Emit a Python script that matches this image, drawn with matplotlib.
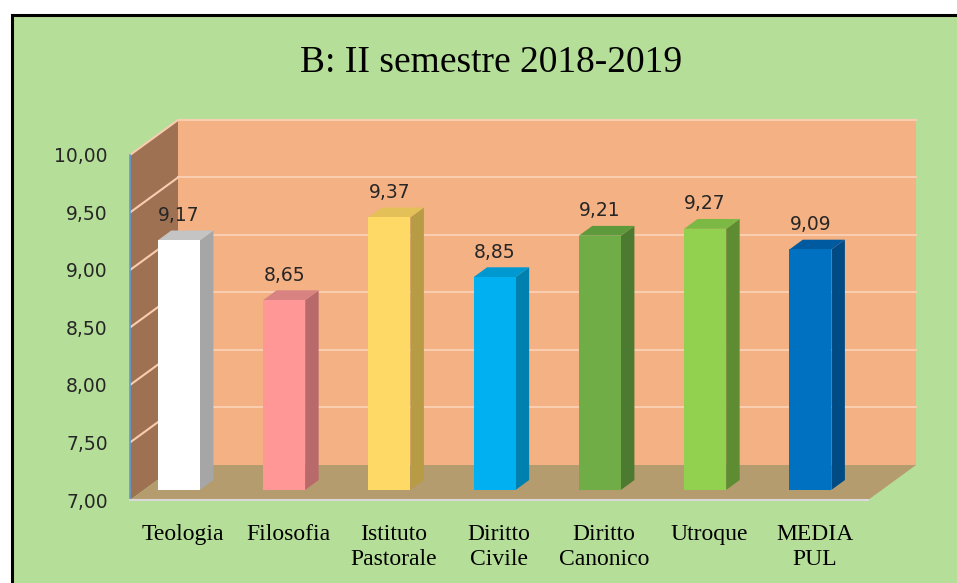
"""3D-style column chart: media voti II semestre 2018-2019"""

import matplotlib
matplotlib.use('Agg')
import matplotlib.pyplot as plt
from matplotlib.patches import Polygon, Rectangle

# Data
categories = ['Teologia', 'Filosofia', 'Istituto\nPastorale', 'Diritto\nCivile',
              'Diritto\nCanonico', 'Utroque', 'MEDIA\nPUL']
values = [9.17, 8.65, 9.37, 8.85, 9.21, 9.27, 9.09]
yticks = [7.0, 7.5, 8.0, 8.5, 9.0, 9.5, 10.0]
title = 'B: II semestre 2018-2019'

# (front, side, top) colours for each bar
bar_colors = [
    ('#ffffff', '#a6a6a6', '#c4c4c4'),
    ('#ff9797', '#b86a6a', '#d98282'),
    ('#ffd966', '#b89b45', '#e3c058'),
    ('#00b0f0', '#0080ae', '#0098d0'),
    ('#70ad47', '#4c7a30', '#5e9a3b'),
    ('#92d050', '#5e8c32', '#7bb844'),
    ('#0070c0', '#004b84', '#005aa0'),
]

GREEN = '#b5de98'
WALL = '#f4b183'
SIDE_WALL = '#9d7152'
FLOOR = '#b59c6e'
GRID = '#f8cdb0'

fig = plt.figure(figsize=(9.57, 5.83), dpi=100)
fig.patch.set_facecolor('white')

# green chart area with black border on top/left
W, H = 957, 583
fig.patches.append(Rectangle((11.5 / W, -0.05), 1.1, (583 - 15.5) / H + 0.05,
                             transform=fig.transFigure, facecolor=GREEN,
                             edgecolor='black', linewidth=2.2, zorder=-5))

ax = fig.add_axes([130 / W, 83 / H, 785 / W, 381 / H])
ax.set_facecolor('none')
for s in ax.spines.values():
    s.set_visible(False)

# axis scales: x = category index on the front plane, y = value
x0, x1 = -0.3325, 6.68
ax.set_xlim(x0, 7.126)
ax.set_ylim(7.0, 10.313)

DX = 48 / 105.25     # depth offset in x units
DY = 35 / 115.0      # depth offset in y units
ymin, ymax = yticks[0], yticks[-1]

# walls and floor
ax.add_patch(Rectangle((x0 + DX, ymin + DY), x1 - x0, ymax - ymin,
                       facecolor=WALL, edgecolor='none', zorder=1, clip_on=False))
ax.add_patch(Polygon([(x0, ymin), (x0, ymax), (x0 + DX, ymax + DY), (x0 + DX, ymin + DY)],
                     closed=True, facecolor=SIDE_WALL, edgecolor='none', zorder=1,
                     clip_on=False))
ax.add_patch(Polygon([(x0, ymin), (x1, ymin), (x1 + DX, ymin + DY), (x0 + DX, ymin + DY)],
                     closed=True, facecolor=FLOOR, edgecolor='none', zorder=1,
                     clip_on=False))

# gridlines on back wall and side wall
for v in yticks[1:]:
    ax.plot([x0 + DX, x1 + DX], [v + DY, v + DY], color=GRID, lw=1.5, zorder=2,
            clip_on=False)
    ax.plot([x0, x0 + DX], [v, v + DY], color=GRID, lw=1.5, zorder=2, clip_on=False)

ax.plot([x0, x0], [ymin, ymax], color='#5b9bd5', lw=1.2, zorder=3, clip_on=False)
ax.plot([x0, x1], [ymin, ymin], color='#d9d9d9', lw=1.5, zorder=3, clip_on=False)

# bars
half = 0.2
f = 0.29      # depth position of bar front face
d = 0.28      # bar depth
for i, (v, (cf, cs, ct)) in enumerate(zip(values, bar_colors)):
    xl = i - half + f * DX
    xr = i + half + f * DX
    yb = ymin + f * DY
    yt = v + f * DY
    ddx, ddy = d * DX, d * DY
    ax.add_patch(Polygon([(xr, yb), (xr, yt), (xr + ddx, yt + ddy), (xr + ddx, yb + ddy)],
                         closed=True, facecolor=cs, edgecolor='none', zorder=4))
    ax.add_patch(Polygon([(xl, yt), (xr, yt), (xr + ddx, yt + ddy), (xl + ddx, yt + ddy)],
                         closed=True, facecolor=ct, edgecolor='none', zorder=4))
    ax.add_patch(Rectangle((xl, yb), xr - xl, yt - yb, facecolor=cf,
                           edgecolor='none', zorder=5))
    ax.text((xl + xr) / 2, yt + ddy + 0.05, f'{v:.2f}'.replace('.', ','),
            ha='center', va='bottom', fontsize=13.5, color='#262626',
            family='DejaVu Sans', zorder=6)

# ticks
ax.set_yticks(yticks)
ax.set_yticklabels([f'{t:.2f}'.replace('.', ',') for t in yticks],
                   fontsize=13.5, color='#262626', family='DejaVu Sans')
ax.tick_params(axis='y', length=0, pad=16)

ax.set_xticks([i + f * DX + 0.04 for i in range(len(categories))])
ax.set_xticklabels(categories, fontsize=17, family='Liberation Serif',
                   linespacing=1.25, color='black')
ax.tick_params(axis='x', length=0, pad=17)

fig.text(491 / W, (H - 72) / H, title, ha='center', va='baseline',
         fontsize=27, family='Liberation Serif', color='black')

fig.savefig('out.png', dpi=100, facecolor=fig.get_facecolor())
